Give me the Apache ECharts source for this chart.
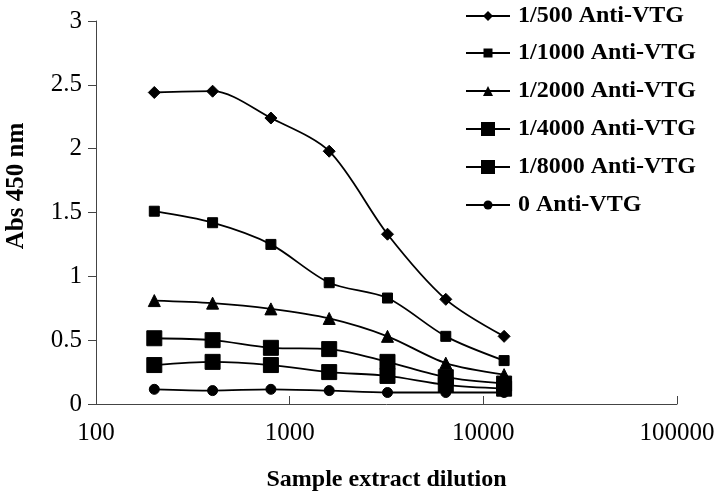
<!DOCTYPE html>
<html>
<head>
<meta charset="utf-8">
<script src="https://cdn.jsdelivr.net/npm/echarts@6/dist/echarts.min.js"></script>
<style>
  html, body { margin: 0; padding: 0; background: #fff; }
  #chart { width: 714px; height: 494px; }
</style>
</head>
<body>
<div id="chart"></div>
<script>
// dilution of the sample extract (x, log scale)
const dilutions = [200, 400, 800, 1600, 3200, 6400, 12800];
const xTicks = [100, 1000, 10000, 100000];

// Abs 450 nm for each antibody dilution
const anti500 = [2.44, 2.45, 2.24, 1.98, 1.33, 0.82, 0.53];
const anti1000 = [1.51, 1.42, 1.25, 0.95, 0.83, 0.53, 0.34];
const anti2000 = [0.81, 0.79, 0.745, 0.67, 0.53, 0.32, 0.23];
const anti4000 = [0.515, 0.50, 0.44, 0.43, 0.33, 0.21, 0.16];
const anti8000 = [0.305, 0.33, 0.305, 0.25, 0.22, 0.15, 0.12];
const anti0 = [0.115, 0.105, 0.115, 0.105, 0.09, 0.09, 0.09];

const seriesNames = ['1/500 Anti-VTG', '1/1000 Anti-VTG', '1/2000 Anti-VTG', '1/4000 Anti-VTG', '1/8000 Anti-VTG', '0 Anti-VTG'];
const seriesData = [anti500, anti1000, anti2000, anti4000, anti8000, anti0];
const symbols = ['diamond', 'rect', 'triangle', 'rect', 'rect', 'circle'];
const symbolSizes = [12, 10, 12, 15, 15, 10];

const serif = '"Liberation Serif", "DejaVu Serif", serif';

// one legend per row so each marker keeps its own size (legend marker = 0.8 * itemHeight)
const legendRows = [16, 53, 91, 129, 167, 205];
const legendSizes = [10, 9, 10, 14, 14, 9];
const legends = seriesNames.map((name, i) => {
    const h = legendSizes[i] / 0.8;
    return {
        orient: 'vertical',
        left: 465,
        top: legendRows[i] - 12,
        padding: 0,
        itemWidth: 44,
        itemHeight: h,
        textStyle: {
            fontFamily: serif,
            fontWeight: 'bold',
            fontSize: 24,
            color: '#000',
            padding: [0, 0, 0, 3]
        },
        data: [name]
    };
});

let myChart = echarts.init(document.getElementById('chart'));
myChart.setOption({
    animation: false,
    backgroundColor: '#fff',
    grid: {
        left: 96,
        right: 37,
        top: 21,
        bottom: 90,
        outerBoundsMode: 'none'
    },
    legend: legends,
    graphic: [{
        type: 'text',
        x: 17,
        y: 186,
        rotation: Math.PI / 2,
        style: {
            text: 'Abs 450 nm',
            fontFamily: serif,
            fontWeight: 'bold',
            fontSize: 25,
            fill: '#000',
            align: 'center',
            verticalAlign: 'middle'
        }
    }],
    xAxis: {
        type: 'log',
        logBase: 10,
        min: 100,
        max: 100000,
        name: 'Sample extract dilution',
        nameLocation: 'middle',
        nameGap: 64,
        nameTextStyle: {
            fontFamily: serif,
            fontWeight: 'bold',
            fontSize: 24,
            color: '#000'
        },
        axisLine: { lineStyle: { color: '#444', width: 1 } },
        axisTick: { inside: true, length: 8, lineStyle: { color: '#444' } },
        axisLabel: {
            fontFamily: serif,
            fontSize: 25,
            color: '#000',
            margin: 17,
            formatter: function (v) { return xTicks.indexOf(v) >= 0 ? String(v) : ''; }
        },
        splitLine: { show: false },
        minorTick: { show: false }
    },
    yAxis: {
        type: 'value',
        min: 0,
        max: 3,
        interval: 0.5,
        axisLine: { show: true, lineStyle: { color: '#444', width: 1 } },
        axisTick: { show: true, length: 8, lineStyle: { color: '#444' } },
        axisLabel: {
            fontFamily: serif,
            fontSize: 25,
            color: '#000',
            margin: 14
        },
        splitLine: { show: false }
    },
    series: seriesData.map((data, i) => ({
        name: seriesNames[i],
        type: 'line',
        smooth: 0.3,
        symbol: symbols[i],
        symbolSize: symbolSizes[i],
        showAllSymbol: true,
        data: dilutions.map((d, j) => [d, data[j]]),
        lineStyle: { color: '#000', width: 1.8 },
        itemStyle: { color: '#000', borderColor: '#000' }
    }))
});
</script>
</body>
</html>
